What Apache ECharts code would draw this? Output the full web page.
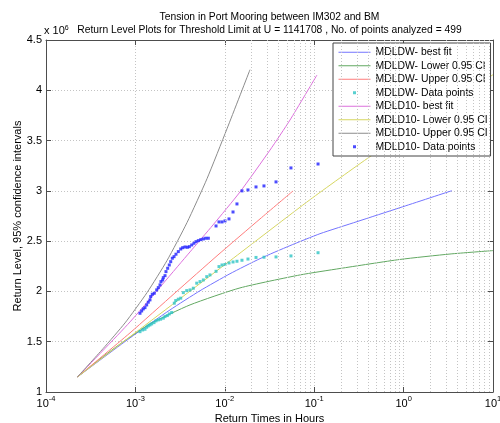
<!DOCTYPE html>
<html>
<head>
<meta charset="utf-8">
<script src="https://cdn.jsdelivr.net/npm/echarts@6/dist/echarts.min.js"></script>
<style>
  html, body { margin: 0; padding: 0; background: #fff; }
  #chart { width: 500px; height: 423px; }
</style>
</head>
<body>
<div id="chart"></div>
<script>
// return times in hours / return levels in units of 10^6
var dwFitX = [2.25e-4, 8.71e-4, 2.438e-3, 5.284e-3, 1.143e-2, 2.477e-2, 5.358e-2, 1.161e-1, 3.013e-1, 0.912, 3.475];
var dwFitY = [1.15, 1.538, 1.816, 2.007, 2.176, 2.326, 2.455, 2.574, 2.694, 2.833, 3.002];
var dwLowX = [2.25e-4, 4.018e-4, 7.26e-4, 1.455e-3, 4.083e-3, 1.479e-2, 6.934e-2, 1.945e-1, 0.912, 3.304, 10];
var dwLowY = [1.15, 1.329, 1.498, 1.677, 1.866, 2.035, 2.164, 2.228, 2.318, 2.372, 2.406];
var dwUpX = [2.25e-4, 8.71e-4, 2.773e-3, 8.395e-3, 2.477e-2, 5.794e-2];
var dwUpY = [1.15, 1.588, 1.985, 2.363, 2.721, 2.999];
var dwPtsX = [1.125e-3, 1.205e-3, 1.28e-3, 1.337e-3, 1.393e-3, 1.455e-3, 1.521e-3, 1.614e-3, 1.698e-3, 1.803e-3,
  1.914e-3, 2.051e-3, 2.143e-3, 2.275e-3, 2.393e-3, 2.547e-3,
  2.723e-3, 2.825e-3, 3.02e-3, 3.214e-3, 3.436e-3, 3.75e-3, 4.083e-3, 4.446e-3, 4.853e-3, 5.284e-3,
  5.754e-3, 6.281e-3, 6.823e-3,
  7.98e-3, 8.61e-3, 9.31e-3, 1.005e-2, 1.114e-2, 1.236e-2, 1.368e-2, 1.556e-2, 1.816e-2, 2.234e-2,
  2.742e-2, 3.741e-2, 5.495e-2, 1.104e-1];
var dwPtsY = [1.600, 1.617, 1.624, 1.644, 1.657, 1.667, 1.677, 1.690, 1.707, 1.717,
  1.724, 1.734, 1.750, 1.760, 1.776, 1.790,
  1.883, 1.909, 1.923, 1.933, 1.988, 2.008, 2.015, 2.032, 2.082, 2.098,
  2.114, 2.147, 2.164,
  2.20, 2.247, 2.263, 2.268, 2.283, 2.293, 2.30, 2.31, 2.322, 2.338,
  2.34, 2.343, 2.353, 2.385];

var d10FitX = [2.25e-4, 8.71e-4, 4.083e-3, 7.379e-3, 1.479e-2, 3.206e-2, 5.358e-2, 1.074e-1];
var d10FitY = [1.15, 1.697, 2.393, 2.661, 2.989, 3.406, 3.704, 4.152];
var d10LowX = [2.25e-4, 8.71e-4, 1.143e-2, 8.974e-2, 0.4207, 10];
var d10LowY = [1.15, 1.55, 2.305, 2.912, 3.34, 4.155];
var d10UpX = [2.25e-4, 4.345e-4, 7.656e-4, 1.349e-3, 2.254e-3, 3.776e-3, 6.324e-3, 1.059e-2, 1.914e-2];
var d10UpY = [1.15, 1.431, 1.687, 1.988, 2.306, 2.684, 3.121, 3.618, 4.205];
var d10PtsX = [1.125e-3, 1.175e-3, 1.225e-3, 1.28e-3, 1.337e-3, 1.393e-3, 1.455e-3, 1.483e-3, 1.545e-3, 1.626e-3,
  1.73e-3, 1.803e-3, 1.884e-3, 1.932e-3, 2.018e-3, 2.051e-3, 2.143e-3, 2.198e-3, 2.296e-3, 2.393e-3,
  2.483e-3, 2.588e-3, 2.704e-3, 2.844e-3, 3.02e-3, 3.214e-3, 3.381e-3, 3.589e-3, 3.811e-3, 4.009e-3,
  4.266e-3, 4.519e-3, 4.764e-3, 5.058e-3, 5.383e-3, 5.754e-3, 6.124e-3, 6.546e-3,
  7.98e-3, 8.61e-3, 9.31e-3, 1.005e-2, 1.114e-2, 1.236e-2, 1.368e-2, 1.556e-2, 1.816e-2, 2.234e-2,
  2.742e-2, 3.741e-2, 5.495e-2, 1.104e-1];
var d10PtsY = [1.783, 1.806, 1.826, 1.839, 1.866, 1.893, 1.916, 1.949, 1.972, 1.982,
  2.015, 2.038, 2.065, 2.098, 2.114, 2.137, 2.157, 2.197, 2.230, 2.263,
  2.296, 2.330, 2.346, 2.370, 2.396, 2.422, 2.435, 2.442, 2.439, 2.445,
  2.462, 2.479, 2.495, 2.505, 2.515, 2.522, 2.529, 2.529,
  2.651, 2.691, 2.691, 2.701, 2.721, 2.790, 2.870, 3.000, 3.009, 3.039,
  3.049, 3.089, 3.228, 3.267];

var xTickExp = ['-4', '-3', '-2', '-1', '0', '1'];
var decades = [1e-4, 1e-3, 1e-2, 1e-1, 1];
var minorSteps = [2, 3, 4, 5, 6, 7, 8, 9];

var FONT = '"Liberation Sans", Arial, sans-serif';
var GRIDLINE = { color: '#c4c4c4', type: [1, 2], width: 1 };
var AXISCOL = '#4d4d4d';

function pairs(xs, ys) {
  return xs.map(function (x, i) { return [x, ys[i]]; });
}
function lineSeries(name, xs, ys, color) {
  return {
    name: name, type: 'line', data: pairs(xs, ys), symbol: 'none', smooth: 0.2,
    lineStyle: { color: color, width: 1 }, itemStyle: { color: color }, z: 3
  };
}
function dotSeries(name, xs, ys, color) {
  return {
    name: name, type: 'scatter', data: pairs(xs, ys), symbol: 'rect', symbolSize: 3,
    itemStyle: { color: color }, z: 4
  };
}

// minor dotted grid at 2..9 of each decade
var minorLines = [];
decades.forEach(function (d) {
  minorSteps.forEach(function (m) { minorLines.push({ xAxis: m * d }); });
});

var dotIcon = 'path://M0 0H1V1H0Z';
function lineItem(name) { return { name: name, itemStyle: { opacity: 0 } }; }

var chart = echarts.init(document.getElementById('chart'));
chart.setOption({
  animation: false,
  textStyle: { fontFamily: FONT },
  grid: { left: 46, right: 7, top: 40, bottom: 31, outerBoundsMode: 'none', containLabel: false },
  graphic: [{
    type: 'text', left: 44, top: 25,
    style: {
      text: 'x 10{e|6}', fill: '#000', font: '11px ' + FONT,
      rich: { e: { fontSize: 7, verticalAlign: 'top', fontFamily: FONT } }
    }
  }],
  legend: {
    orient: 'vertical', left: 333, top: 43, padding: [3, 3, 3, 5],
    itemWidth: 32, itemHeight: 3, itemGap: 1, selectedMode: false,
    backgroundColor: '#fff', borderColor: '#444', borderWidth: 1, borderRadius: 0,
    lineStyle: { width: 1 },
    textStyle: { fontSize: 10.4, lineHeight: 12.5, color: '#000', fontFamily: FONT },
    data: [
      lineItem('MDLDW- best fit'), lineItem('MDLDW- Lower 0.95 CI'), lineItem('MDLDW- Upper 0.95 CI'),
      { name: 'MDLDW- Data points', icon: dotIcon },
      lineItem('MDLD10- best fit'), lineItem('MDLD10- Lower 0.95 CI'), lineItem('MDLD10- Upper 0.95 CI'),
      { name: 'MDLD10- Data points', icon: dotIcon }
    ]
  },
  xAxis: [{
    type: 'log', logBase: 10, min: 1e-4, max: 10, position: 'bottom',
    axisLine: { lineStyle: { color: AXISCOL } },
    axisTick: { inside: true, length: 5, lineStyle: { color: AXISCOL } },
    splitLine: { show: true, lineStyle: GRIDLINE },
    axisLabel: {
      margin: 3, color: '#000', hideOverlap: false,
      formatter: function (v, i) { return '{b|10}{e|' + xTickExp[i] + '}'; },
      rich: {
        b: { fontSize: 11, fontFamily: FONT, color: '#000', verticalAlign: 'bottom', lineHeight: 14 },
        e: { fontSize: 7.5, fontFamily: FONT, color: '#000', verticalAlign: 'top', lineHeight: 14 }
      }
    },
    name: 'Return Times in Hours', nameLocation: 'middle', nameGap: 13,
    nameTextStyle: { fontSize: 11, color: '#000', fontFamily: FONT }
  }, {
    type: 'log', logBase: 10, min: 1e-4, max: 10, position: 'top',
    axisLine: { lineStyle: { color: AXISCOL } },
    axisTick: { inside: true, length: 5, lineStyle: { color: AXISCOL } },
    axisLabel: { show: false }, splitLine: { show: false },
    name: 'Tension in Port Mooring between IM302 and BM\nReturn Level Plots for Threshold Limit at U = 1141708 , No. of points analyzed = 499',
    nameLocation: 'middle', nameGap: 3,
    nameTextStyle: { fontSize: 10.3, lineHeight: 13, color: '#000', fontFamily: FONT, align: 'center' }
  }],
  yAxis: [{
    type: 'value', min: 1, max: 4.5, interval: 0.5,
    axisLine: { show: true, lineStyle: { color: AXISCOL } },
    axisTick: { show: true, inside: true, length: 5, lineStyle: { color: AXISCOL } },
    splitLine: { show: true, lineStyle: GRIDLINE },
    axisLabel: { margin: 4, fontSize: 11, color: '#000', fontFamily: FONT },
    name: 'Return Level, 95% confidence intervals', nameLocation: 'middle', nameGap: 23,
    nameMoveOverlap: false,
    nameTextStyle: { fontSize: 11, color: '#000', fontFamily: FONT }
  }, {
    type: 'value', min: 1, max: 4.5, interval: 0.5, position: 'right',
    axisLine: { show: true, lineStyle: { color: AXISCOL } },
    axisTick: { show: true, inside: true, length: 5, lineStyle: { color: AXISCOL } },
    axisLabel: { show: false }, splitLine: { show: false }
  }],
  series: [
    {
      name: 'minor grid', type: 'line', data: [], z: 1, silent: true,
      markLine: {
        silent: true, symbol: 'none', label: { show: false },
        lineStyle: GRIDLINE, emphasis: { disabled: true }, data: minorLines
      }
    },
    lineSeries('MDLDW- best fit', dwFitX, dwFitY, '#7474ff'),
    lineSeries('MDLDW- Lower 0.95 CI', dwLowX, dwLowY, '#62a862'),
    lineSeries('MDLDW- Upper 0.95 CI', dwUpX, dwUpY, '#ff7c7c'),
    dotSeries('MDLDW- Data points', dwPtsX, dwPtsY, '#2ec4c4'),
    lineSeries('MDLD10- best fit', d10FitX, d10FitY, '#dd70dd'),
    lineSeries('MDLD10- Lower 0.95 CI', d10LowX, d10LowY, '#d6d660'),
    lineSeries('MDLD10- Upper 0.95 CI', d10UpX, d10UpY, '#8c8c8c'),
    dotSeries('MDLD10- Data points', d10PtsX, d10PtsY, '#1f1fff')
  ]
});
</script>
</body>
</html>
